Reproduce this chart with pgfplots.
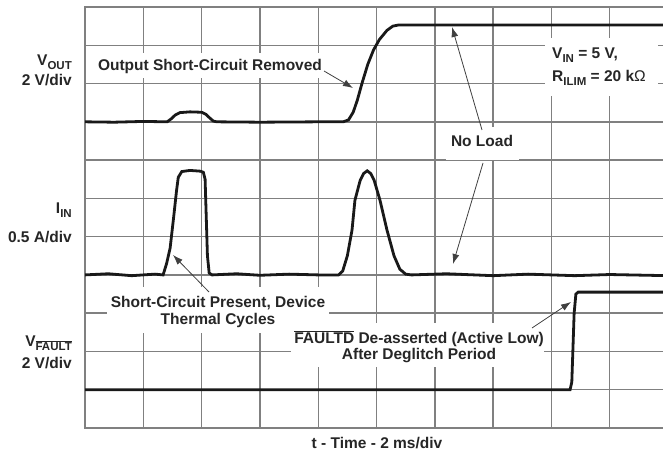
\documentclass[border=0pt]{standalone}
\usepackage{pgfplots}
\pgfplotsset{compat=1.18}
\usepackage{fontspec}
\setmainfont{Liberation Sans}
\usetikzlibrary{arrows.meta}

\newcommand\sub[1]{\raisebox{-3.5pt}{\fontsize{11.5}{12}\selectfont #1}}
\definecolor{gridc}{gray}{0.5}
\definecolor{trace}{gray}{0.1}
\definecolor{arr}{gray}{0.25}

\begin{document}
\begin{tikzpicture}
\clip (0pt,0pt) rectangle (663pt,452pt);
\fill[white] (0pt,0pt) rectangle (663pt,452pt);

\begin{axis}[
    at={(85pt,24pt)}, anchor=south west,
    scale only axis, width=583pt, height=421pt,
    xmin=0, xmax=10, ymin=0, ymax=11,
    xtick={0,...,10}, ytick={0,...,11},
    xticklabels={}, yticklabels={},
    major tick length=0pt,
    grid=major,
    grid style={draw=gridc, line width=1.4pt},
    axis line style={draw=gridc, line width=1.6pt},
]
% V_OUT
\addplot[trace, line width=2.8pt] coordinates {
    (0,8.0) (0.5,7.99) (1.0,8.01) (1.41,8.0) (1.48,8.08) (1.55,8.18) (1.63,8.24)
    (1.8,8.26) (2.0,8.25) (2.07,8.2) (2.14,8.1) (2.2,8.02) (2.26,8.0) (3.0,7.99)
    (4.0,8.0) (4.43,8.0) (4.52,8.05) (4.6,8.25) (4.67,8.56) (4.75,9.0) (4.85,9.5)
    (4.95,9.88) (5.05,10.15) (5.18,10.39) (5.28,10.5) (5.38,10.53) (10,10.53)
};
% I_IN
\addplot[trace, line width=2.8pt] coordinates {
    (0,4.0) (0.4,4.03) (0.8,3.98) (1.2,4.02) (1.34,4.0) (1.40,4.3) (1.46,4.7)
    (1.52,5.5) (1.57,6.2) (1.60,6.55) (1.66,6.7) (1.8,6.73) (1.98,6.71) (2.03,6.68)
    (2.06,6.5) (2.08,5.5) (2.10,4.5) (2.13,4.05) (2.18,4.0) (2.6,4.03) (3.0,3.99)
    (3.5,4.02) (4.0,4.0) (4.35,4.0) (4.42,4.1) (4.50,4.5) (4.58,5.17) (4.63,5.95)
    (4.72,6.47) (4.78,6.65) (4.84,6.72) (4.90,6.65) (4.96,6.47) (5.06,5.95)
    (5.18,5.17) (5.30,4.5) (5.40,4.15) (5.5,4.02) (5.6,4.0) (6.2,4.03) (7,3.98)
    (7.6,4.02) (8.4,3.98) (9,4.01) (10,3.98)
};
% V_FAULT
\addplot[trace, line width=2.8pt] coordinates {
    (0,1.0) (8.32,1.0) (8.35,1.2) (8.39,3.0) (8.42,3.5) (8.46,3.55) (10,3.55)
};
\end{axis}

\begin{scope}[shift={(0pt,452pt)}, x=1pt, y=-1pt,
    every node/.style={font=\fontsize{15.5}{17}\selectfont\bfseries, text=black!85, inner sep=0pt}]
% blank areas behind the texts
\fill[white] (95,53) rectangle (326,78);
\fill[white] (545,38) rectangle (658,96);
\fill[white] (446,127) rectangle (519,160);
\fill[white] (107,287) rectangle (329,333);
\fill[white] (291,323) rectangle (544,367);

% left labels
\node[anchor=east] at (72,62) {V\sub{OUT}};
\node[anchor=east] at (72,80) {2 V/div};
\node[anchor=east] at (72,210) {I\sub{IN}};
\node[anchor=east] at (72,237) {0.5 A/div};
\node[anchor=east] at (72,343) {V\sub{$\overline{\mbox{FAULT}}$}};
\node[anchor=east] at (72,363) {2 V/div};

% annotations
\node at (210,66) {Output Short-Circuit Removed};
\node[anchor=west] at (552,55) {V\sub{IN} = 5 V,};
\node[anchor=west] at (552,78) {R\sub{ILIM} = 20 k\textmd{Ω}};
\node at (482,141) {No Load};
\node at (218,303) {Short-Circuit Present, Device};
\node at (218,320) {Thermal Cycles};
\node at (419,339) {$\overline{\mbox{FAULTD}}$ De-asserted (Active Low)};
\node at (419,356) {After Deglitch Period};
\node at (377,443) {t - Time - 2 ms/div};

% arrows
\begin{scope}[draw=arr, line width=0.8pt, -{Latex[length=10pt,width=7pt]}]
\draw (324,71) -- (353,88);
\draw (482,130) -- (452,27);
\draw (483,163) -- (453,264);
\draw (209,292) -- (173,255);
\draw (532,328) -- (571,302);
\end{scope}
\end{scope}
\end{tikzpicture}
\end{document}
